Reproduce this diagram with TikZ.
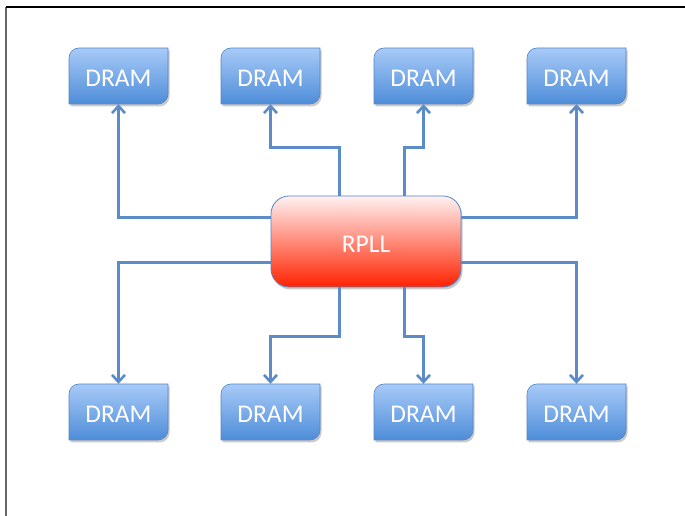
\documentclass[tikz,border=0pt]{standalone}
\usepackage{fontspec}
\setmainfont{Carlito}
\usetikzlibrary{arrows.meta,shadows,calc}
\definecolor{lineblue}{HTML}{5B8CC8}
\definecolor{dramtop}{HTML}{A8CAF8}
\definecolor{drambot}{HTML}{4E8DD8}
\definecolor{dramedge}{HTML}{5486C4}
\definecolor{rplltop}{HTML}{FFF2F2}
\definecolor{rpllbot}{HTML}{FF2200}
\tikzset{
  dram/.style={minimum width=99pt,minimum height=56pt,inner sep=0pt},
  rpllbox/.style={minimum width=190pt,minimum height=91pt,inner sep=0pt},
  lbl/.style={text=white,font=\fontsize{25.5}{28}\selectfont,inner sep=0pt},
  conn/.style={draw=lineblue,line width=3pt,-{Straight Barb[length=7pt,width=13pt,line width=2.6pt]}},
  shp/.style={drop shadow={shadow xshift=1.5pt,shadow yshift=-2.5pt,opacity=0.35,fill=black!60}}
}
\begin{document}
\begin{tikzpicture}[x=1pt,y=1pt]
\useasboundingbox (0,0) rectangle (685,516);
\draw[gray!80!black,line width=1.5pt] (6,0) -- (6,509);
\draw[black,line width=1.5pt] (6,509) -- (685,509);
\path
  (118.5,440) coordinate (c1) (270.5,440) coordinate (c2) (423.5,440) coordinate (c3) (576.5,440) coordinate (c4)
  (118.5,104) coordinate (c5) (270.5,104) coordinate (c6) (423.5,104) coordinate (c7) (576.5,104) coordinate (c8);
% RPLL
\shade[shp,top color=rplltop,bottom color=rpllbot,draw=dramedge,line width=0.8pt,rounded corners=18pt]
  (271,229) rectangle (461,320);
\node[rpllbox] (rpll) at (366,274.5) {};
\node[lbl] (rplltext) at ([yshift=-3pt]rpll.center) {RPLL};
% DRAM boxes
\foreach \i in {1,...,8}{
  \shade[shp,top color=dramtop,bottom color=drambot,draw=dramedge,line width=0.6pt]
    ($(c\i)+(-49.5,18)$) arc[start angle=180,end angle=90,radius=10pt]
    -- ($(c\i)+(49.5,28)$) -- ($(c\i)+(49.5,-18)$) arc[start angle=0,end angle=-90,radius=10pt]
    -- ($(c\i)+(-49.5,-28)$) -- cycle;
  \node[dram] (d\i) at (c\i) {};
  \node[lbl] (t\i) at ([yshift=-2pt]d\i.center) {DRAM};
}
% connectors
\draw[conn] ([yshift=24pt]rpll.west) -| (d1.south);
\draw[conn] ([xshift=-27pt]rpll.north) -- ++(0,48) -| (d2.south);
\draw[conn] ([xshift=38pt]rpll.north) -- ++(0,48) -| (d3.south);
\draw[conn] ([yshift=24pt]rpll.east) -| (d4.south);
\draw[conn] ([yshift=-21pt]rpll.west) -| (d5.north);
\draw[conn] ([xshift=-27pt]rpll.south) -- ++(0,-49) -| (d6.north);
\draw[conn] ([xshift=38pt]rpll.south) -- ++(0,-49) -| (d7.north);
\draw[conn] ([yshift=-21pt]rpll.east) -| (d8.north);
\end{tikzpicture}
\end{document}
